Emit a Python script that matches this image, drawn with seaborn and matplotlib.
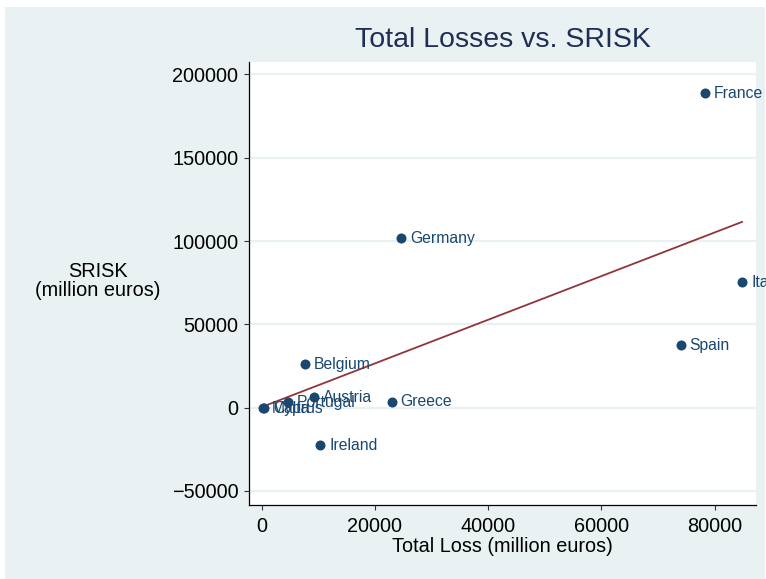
import matplotlib
matplotlib.use("Agg")
import matplotlib.pyplot as plt
from matplotlib.patches import Rectangle
import pandas as pd
import seaborn as sns

# values (million euros)
countries = ["France", "Italy", "Spain", "Germany", "Belgium", "Greece",
             "Austria", "Ireland", "Portugal", "Malta", "Cyprus"]
total_loss = [78300, 84900, 74000, 24600, 7650, 22970, 9240, 10300, 4590, 200, 400]
srisk = [188800, 75400, 37600, 101800, 26200, 3540, 6180, -22600, 3180, -400, -300]

x_ticks = [0, 20000, 40000, 60000, 80000]
x_tick_labels = ["0", "20000", "40000", "60000", "80000"]
y_ticks = [-50000, 0, 50000, 100000, 150000, 200000]
y_tick_labels = ["\u221250000", "0", "50000", "100000", "150000", "200000"]

df = pd.DataFrame({"country": countries, "loss": total_loss, "srisk": srisk})

BG = "#E9F1F3"
NAVY = "#1A476F"
MAROON = "#90353B"
TITLE = "#1E2F55"

sns.set_theme(style="ticks")
plt.rcParams["font.family"] = ["Liberation Sans", "DejaVu Sans"]

W, H = 766, 579
fig = plt.figure(figsize=(W / 100, H / 100), dpi=100, facecolor="white")
fig.patches.append(Rectangle((5 / W, 0), 760 / W, (H - 7) / H, transform=fig.transFigure,
                             facecolor=BG, edgecolor="none", zorder=-5))
ax = fig.add_axes([249.4 / W, (H - 505) / H, 506.6 / W, 443 / H])
ax.set_zorder(1)
ax.set_facecolor("white")

sns.regplot(data=df, x="loss", y="srisk", ci=None, scatter=False, color=MAROON,
            line_kws={"linewidth": 1.3, "zorder": 2}, ax=ax)
sns.scatterplot(data=df, x="loss", y="srisk", s=52, color=NAVY, edgecolor=NAVY,
                linewidth=0, ax=ax, zorder=3)

for name, xv, yv in zip(countries, total_loss, srisk):
    ax.annotate(name, (xv, yv), xytext=(6.5, 0), textcoords="offset points",
                ha="left", va="center", color=NAVY, fontsize=11.3,
                annotation_clip=False, zorder=4)

ax.set_xlim(-2173, 87332)
ax.set_ylim(-58403, 207443)
ax.set_xticks(x_ticks, x_tick_labels)
ax.set_yticks(y_ticks, y_tick_labels)

ax.yaxis.grid(True, color=BG, linewidth=1.6)
ax.xaxis.grid(False)
ax.set_axisbelow(True)

for side in ["top", "right"]:
    ax.spines[side].set_visible(False)
for side in ["left", "bottom"]:
    ax.spines[side].set_color("black")
    ax.spines[side].set_linewidth(0.9)

ax.tick_params(axis="both", direction="out", length=3.6, width=0.8, color="#333333",
               labelsize=14.3, labelcolor="black", bottom=True, left=True)
ax.tick_params(axis="y", pad=4.3)
ax.tick_params(axis="x", pad=5)

ax.set_xlabel("Total Loss (million euros)", fontsize=14.3, color="black")
ax.xaxis.set_label_coords(0.5, -0.0948)
ax.xaxis.label.set_va("center")

ax.set_ylabel("SRISK\n(million euros)", fontsize=14.3, color="black",
              rotation=0, ha="center", va="center", linespacing=1.0)
ax.yaxis.set_label_coords(-0.299, 0.506)

fig.text(502.7 / W, (H - 40) / H, "Total Losses vs. SRISK", ha="center", va="center",
         fontsize=20.5, color=TITLE)

fig.savefig("out.png", dpi=100, facecolor=fig.get_facecolor())
